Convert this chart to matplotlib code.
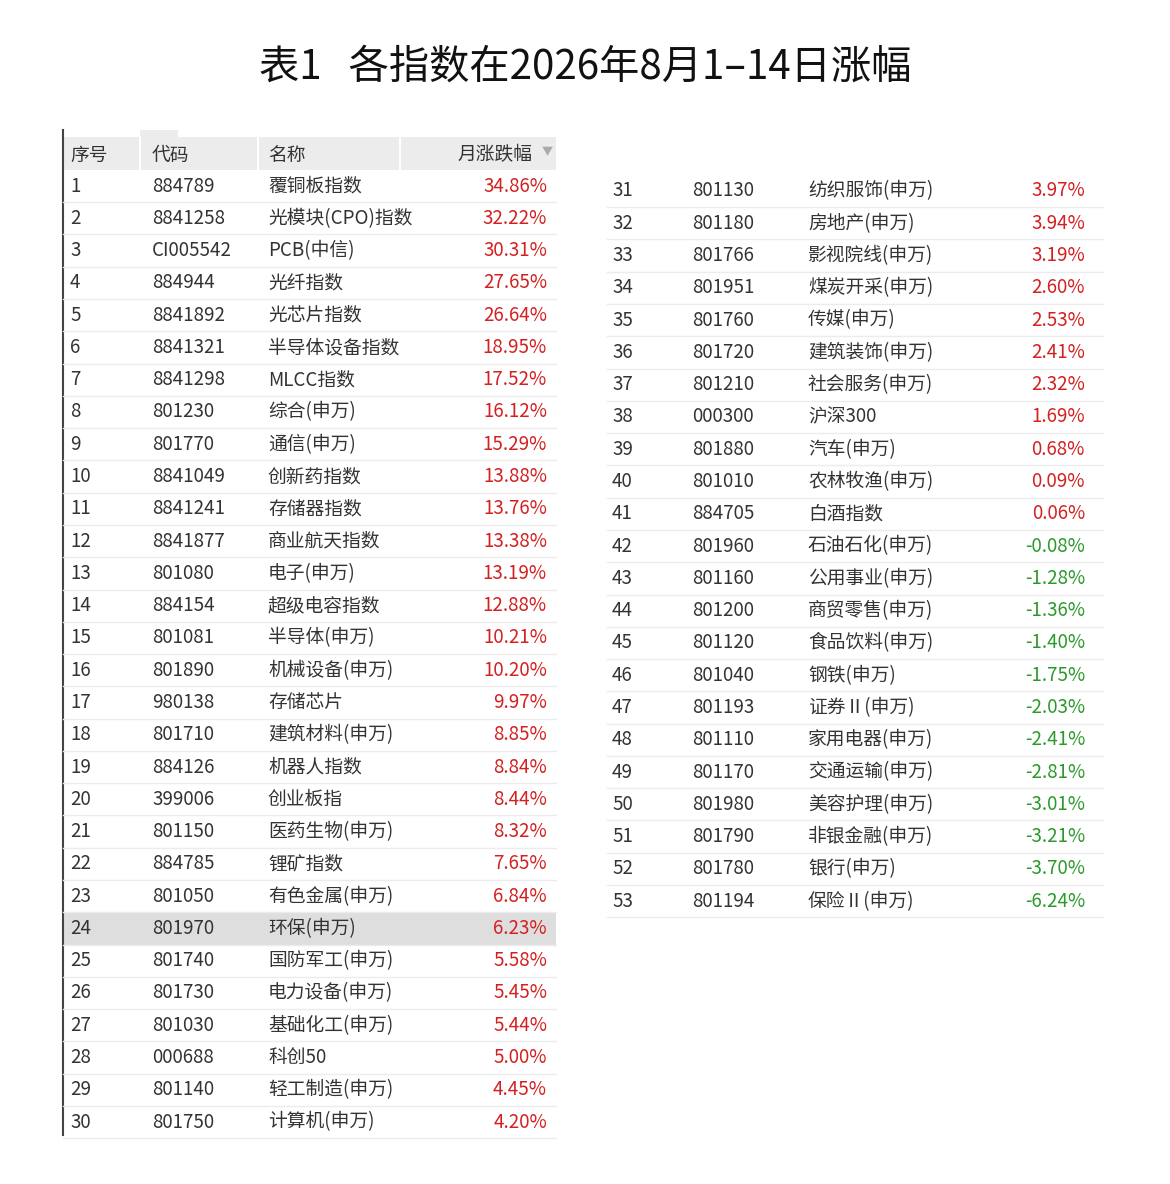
import matplotlib
matplotlib.use("Agg")
import matplotlib.pyplot as plt
from matplotlib.patches import Rectangle

plt.rcParams['font.family'] = ['Noto Sans CJK SC', 'DejaVu Sans']

title = "表1   各指数在2026年8月1–14日涨幅"
headers = ["序号", "代码", "名称", "月涨跌幅"]
codes = ["884789","8841258","CI005542","884944","8841892","8841321","8841298","801230","801770","8841049",
         "8841241","8841877","801080","884154","801081","801890","980138","801710","884126","399006",
         "801150","884785","801050","801970","801740","801730","801030","000688","801140","801750",
         "801130","801180","801766","801951","801760","801720","801210","000300","801880","801010",
         "884705","801960","801160","801200","801120","801040","801193","801110","801170","801980",
         "801790","801780","801194"]
names = ["覆铜板指数","光模块(CPO)指数","PCB(中信)","光纤指数","光芯片指数","半导体设备指数","MLCC指数","综合(申万)","通信(申万)","创新药指数",
         "存储器指数","商业航天指数","电子(申万)","超级电容指数","半导体(申万)","机械设备(申万)","存储芯片","建筑材料(申万)","机器人指数","创业板指",
         "医药生物(申万)","锂矿指数","有色金属(申万)","环保(申万)","国防军工(申万)","电力设备(申万)","基础化工(申万)","科创50","轻工制造(申万)","计算机(申万)",
         "纺织服饰(申万)","房地产(申万)","影视院线(申万)","煤炭开采(申万)","传媒(申万)","建筑装饰(申万)","社会服务(申万)","沪深300","汽车(申万)","农林牧渔(申万)",
         "白酒指数","石油石化(申万)","公用事业(申万)","商贸零售(申万)","食品饮料(申万)","钢铁(申万)","证券Ⅱ(申万)","家用电器(申万)","交通运输(申万)","美容护理(申万)",
         "非银金融(申万)","银行(申万)","保险Ⅱ(申万)"]
values = [34.86,32.22,30.31,27.65,26.64,18.95,17.52,16.12,15.29,13.88,
          13.76,13.38,13.19,12.88,10.21,10.20,9.97,8.85,8.84,8.44,
          8.32,7.65,6.84,6.23,5.58,5.45,5.44,5.00,4.45,4.20,
          3.97,3.94,3.19,2.60,2.53,2.41,2.32,1.69,0.68,0.09,
          0.06,-0.08,-1.28,-1.36,-1.40,-1.75,-2.03,-2.41,-2.81,-3.01,
          -3.21,-3.70,-6.24]
highlight_row = 24

W, H = 1170, 1184
fig = plt.figure(figsize=(W/100, H/100), dpi=100)
ax = fig.add_axes([0, 0, 1, 1])
ax.set_xlim(0, W); ax.set_ylim(H, 0); ax.axis('off')

ax.text(585, 67, title, ha='center', va='center', fontsize=29, color='#111111')

RED, GREEN, TXT = '#d42020', '#2a9a2a', '#333333'
FS = 13.5
step = 32.28

# left table
ax.add_patch(Rectangle((63, 137), 493, 33, color='#ececec', lw=0))
ax.add_patch(Rectangle((140, 130), 38, 7, color='#ececec', lw=0))
for xs in [140, 258, 400]:
    ax.plot([xs, xs], [137, 170], color='white', lw=1.5)
ax.plot([63, 63], [130, 1135], color='#444444', lw=1.5)
hx = [70, 152, 268]
for h, x in zip(headers[:3], hx):
    ax.text(x, 155, h, ha='left', va='center', fontsize=FS, color=TXT)
ax.text(532, 155, headers[3], ha='right', va='center', fontsize=FS, color=TXT)
ax.text(547, 152, "▼", ha='center', va='center', fontsize=8, color='#aaaaaa')

def draw_rows(start, end, y0, xs, xr, x0, x1):
    for k, i in enumerate(range(start, end)):
        y = y0 + k*step
        if i + 1 == highlight_row:
            ax.add_patch(Rectangle((x0, y-step/2), x1-x0, step, color='#dedede', lw=0))
        ax.plot([x0, x1], [y+step/2, y+step/2], color='#ececec', lw=1)
        ax.text(xs[0], y, str(i+1), ha='left', va='center', fontsize=FS, color=TXT)
        ax.text(xs[1], y, codes[i], ha='left', va='center', fontsize=FS, color=TXT)
        t = ax.text(xs[2], y, names[i], ha='left', va='center', fontsize=FS, color=TXT)
        clip = Rectangle((xs[2]-2, y-step/2), 135, step, transform=ax.transData, fill=False, lw=0)
        t.set_clip_path(clip)
        v = values[i]
        ax.text(xr, y, f"{v:.2f}%", ha='right', va='center', fontsize=FS,
                color=RED if v >= 0 else GREEN)

draw_rows(0, 30, 186, [70, 152, 268], 547, 63, 556)
draw_rows(30, 53, 191, [612, 692, 808], 1085, 607, 1103)

fig.savefig("out.png", dpi=100, facecolor='white')
